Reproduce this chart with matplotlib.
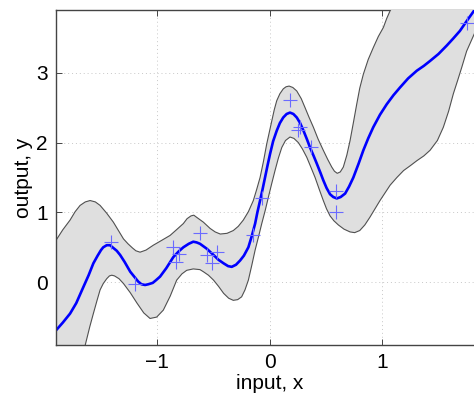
import numpy as np
import matplotlib
matplotlib.use("Agg")
import matplotlib.pyplot as plt

plt.rcParams['font.family'] = ['Liberation Sans', 'DejaVu Sans']

# ---- data ----
mean_x = [-1.90, -1.84, -1.775, -1.72, -1.657, -1.61, -1.568, -1.53, -1.50, -1.48,
          -1.449, -1.42, -1.39, -1.36, -1.33, -1.29, -1.24, -1.20, -1.17, -1.14,
          -1.108, -1.08, -1.04, -1.01, -0.975, -0.92, -0.857, -0.81, -0.768, -0.72,
          -0.68, -0.65, -0.62, -0.56, -0.50, -0.455, -0.41, -0.37, -0.338, -0.30,
          -0.264, -0.23, -0.19, -0.16, -0.13, -0.11, -0.086, -0.064, -0.042, -0.02,
          0.003, 0.03, 0.062, 0.09, 0.12, 0.15, 0.18, 0.21, 0.24, 0.27,
          0.30, 0.33, 0.358, 0.39, 0.418, 0.45, 0.476, 0.505, 0.536, 0.565,
          0.596, 0.63, 0.67, 0.705, 0.743, 0.79, 0.832, 0.875, 0.92, 0.98,
          1.04, 1.10, 1.158, 1.23, 1.307, 1.37, 1.425, 1.50, 1.573, 1.63,
          1.69, 1.75, 1.816, 1.90]
mean_y = [-0.69, -0.58, -0.45, -0.30, -0.07, 0.10, 0.27, 0.38, 0.46, 0.50,
          0.53, 0.53, 0.49, 0.45, 0.39, 0.29, 0.15, 0.07, 0.01, -0.03,
          -0.04, -0.03, -0.01, 0.03, 0.08, 0.20, 0.36, 0.44, 0.50, 0.55,
          0.58, 0.57, 0.55, 0.48, 0.39, 0.32, 0.27, 0.23, 0.22, 0.25,
          0.31, 0.38, 0.50, 0.66, 0.84, 1.00, 1.17, 1.33, 1.50, 1.67,
          1.84, 2.02, 2.17, 2.28, 2.36, 2.41, 2.43, 2.41, 2.36, 2.28,
          2.17, 2.05, 1.93, 1.81, 1.70, 1.57, 1.46, 1.35, 1.26, 1.22,
          1.20, 1.22, 1.27, 1.37, 1.50, 1.70, 1.89, 2.06, 2.22, 2.40,
          2.55, 2.68, 2.79, 2.92, 3.03, 3.10, 3.17, 3.27, 3.39, 3.49,
          3.60, 3.74, 3.89, 4.08]

upper_x = [-1.90, -1.84, -1.775, -1.73, -1.686, -1.64, -1.597, -1.55, -1.508, -1.45,
           -1.39, -1.345, -1.30, -1.26, -1.22, -1.19, -1.153, -1.10, -1.035, -0.96,
           -0.886, -0.83, -0.768, -0.735, -0.70, -0.675, -0.65, -0.59, -0.53, -0.485,
           -0.44, -0.38, -0.324, -0.28, -0.235, -0.19, -0.146, -0.116, -0.086, -0.056,
           -0.027, 0.018, 0.04, 0.062, 0.09, 0.12, 0.145, 0.172, 0.205, 0.24,
           0.28, 0.314, 0.35, 0.388, 0.43, 0.476, 0.515, 0.551, 0.575, 0.60,
           0.627, 0.654, 0.685, 0.714, 0.745, 0.773, 0.80, 0.832, 0.875, 0.92,
           0.965, 1.01, 1.04, 1.07, 1.2, 1.5, 1.9]
upper_y = [0.60, 0.75, 0.89, 1.01, 1.10, 1.15, 1.17, 1.15, 1.10, 0.99,
           0.86, 0.74, 0.62, 0.55, 0.49, 0.45, 0.43, 0.46, 0.53, 0.60,
           0.67, 0.75, 0.84, 0.91, 0.95, 0.96, 0.93, 0.86, 0.77, 0.72,
           0.69, 0.70, 0.74, 0.80, 0.89, 1.01, 1.17, 1.33, 1.50, 1.73,
           1.98, 2.31, 2.47, 2.60, 2.70, 2.77, 2.80, 2.81, 2.79, 2.74,
           2.63, 2.50, 2.36, 2.22, 2.05, 1.89, 1.76, 1.65, 1.59, 1.56,
           1.58, 1.65, 1.82, 2.03, 2.30, 2.55, 2.78, 2.98, 3.19, 3.36,
           3.52, 3.65, 3.78, 3.89, 4.2, 4.6, 5.0]

lower_x = [-1.90, -1.75, -1.69, -1.64, -1.60, -1.568, -1.535, -1.508, -1.48, -1.449,
           -1.425, -1.404, -1.38, -1.34, -1.30, -1.24, -1.18, -1.12, -1.064, -1.005,
           -0.946, -0.885, -0.827, -0.78, -0.738, -0.68, -0.62, -0.59, -0.545, -0.50,
           -0.455, -0.41, -0.365, -0.324, -0.285, -0.25, -0.22, -0.19, -0.16, -0.13,
           -0.10, -0.071, -0.04, -0.012, 0.017, 0.047, 0.077, 0.107, 0.14, 0.18,
           0.215, 0.254, 0.29, 0.329, 0.365, 0.403, 0.44, 0.476, 0.505, 0.536,
           0.57, 0.61, 0.66, 0.714, 0.755, 0.80, 0.845, 0.89, 0.935, 0.98,
           1.025, 1.07, 1.13, 1.19, 1.25, 1.307, 1.37, 1.425, 1.49, 1.543,
           1.59, 1.632, 1.67, 1.707, 1.75, 1.816, 1.90]
lower_y = [-2.0, -1.5, -1.15, -0.90, -0.64, -0.45, -0.26, -0.11, -0.02, 0.05,
           0.09, 0.10, 0.09, 0.05, -0.02, -0.15, -0.30, -0.44, -0.52, -0.50,
           -0.40, -0.20, 0.03, 0.12, 0.17, 0.19, 0.18, 0.15, 0.10, 0.03,
           -0.06, -0.16, -0.23, -0.26, -0.25, -0.21, -0.11, 0.03, 0.24, 0.46,
           0.65, 0.84, 1.03, 1.22, 1.41, 1.60, 1.78, 1.93, 2.03, 2.08,
           2.06, 2.00, 1.91, 1.79, 1.65, 1.50, 1.33, 1.17, 1.05, 0.95,
           0.88, 0.82, 0.76, 0.72, 0.71, 0.74, 0.82, 0.93, 1.05, 1.17,
           1.28, 1.39, 1.50, 1.60, 1.67, 1.74, 1.81, 1.89, 2.03, 2.22,
           2.45, 2.70, 2.89, 3.08, 3.31, 3.55, 3.85]

obs_x = [-1.41, -1.20, -0.86, -0.81, -0.83, -0.62, -0.56, -0.51, -0.47, -0.15, -0.07,
         0.18, 0.27, 0.255, 0.365, 0.59, 0.59, 1.755]
obs_y = [0.58, -0.02, 0.50, 0.41, 0.29, 0.71, 0.39, 0.28, 0.43, 0.67, 1.20,
         2.61, 2.23, 2.18, 1.94, 1.31, 1.00, 3.72]

xticks = [-1, 0, 1]
xticklabels = ['\u22121', '0', '1']
yticks = [0, 1, 2, 3]
yticklabels = ['0', '1', '2', '3']

# ---- figure ----
fig = plt.figure(figsize=(4.74, 3.95), dpi=100)
ax = fig.add_axes([56 / 474, 50 / 395, 427.5 / 474, 335 / 395])

poly_x = np.concatenate([upper_x, lower_x[::-1]])
poly_y = np.concatenate([upper_y, lower_y[::-1]])
ax.fill(poly_x, poly_y, facecolor='#dfdfdf', edgecolor='none', zorder=3)
ax.plot(upper_x, upper_y, color='#505050', lw=0.8, zorder=4)
ax.plot(lower_x, lower_y, color='#505050', lw=0.8, zorder=4)
ax.plot(mean_x, mean_y, color='#0000ff', lw=1.9, zorder=5,
        solid_joinstyle='round')
ax.plot(obs_x, obs_y, linestyle='none', marker='+', markersize=9.5,
        markeredgewidth=0.8, color='#6a6aff', zorder=6)

ax.set_xlim(-1.9, 1.9)
ax.set_ylim(-0.9, 3.9)
ax.set_xticks(xticks)
ax.set_xticklabels(xticklabels)
ax.set_yticks(yticks)
ax.set_yticklabels(yticklabels)
ax.grid(True, linestyle=(0, (1, 3)), color='#c8c8c8', lw=0.7, zorder=1)
ax.set_axisbelow(True)
ax.tick_params(direction='in', length=4, width=0.7, color='#444444',
               labelsize=15, top=True, right=True, pad=6)
for side, sp in ax.spines.items():
    sp.set_color('#444444')
    sp.set_linewidth(1.0)
ax.spines['top'].set_zorder(2)
ax.spines['left'].set_zorder(7)
ax.spines['bottom'].set_zorder(7)

ax.set_xlabel('input, x', fontsize=15, labelpad=1)
ax.set_ylabel('output, y', fontsize=15, labelpad=2)

fig.savefig('out.png', dpi=100)
